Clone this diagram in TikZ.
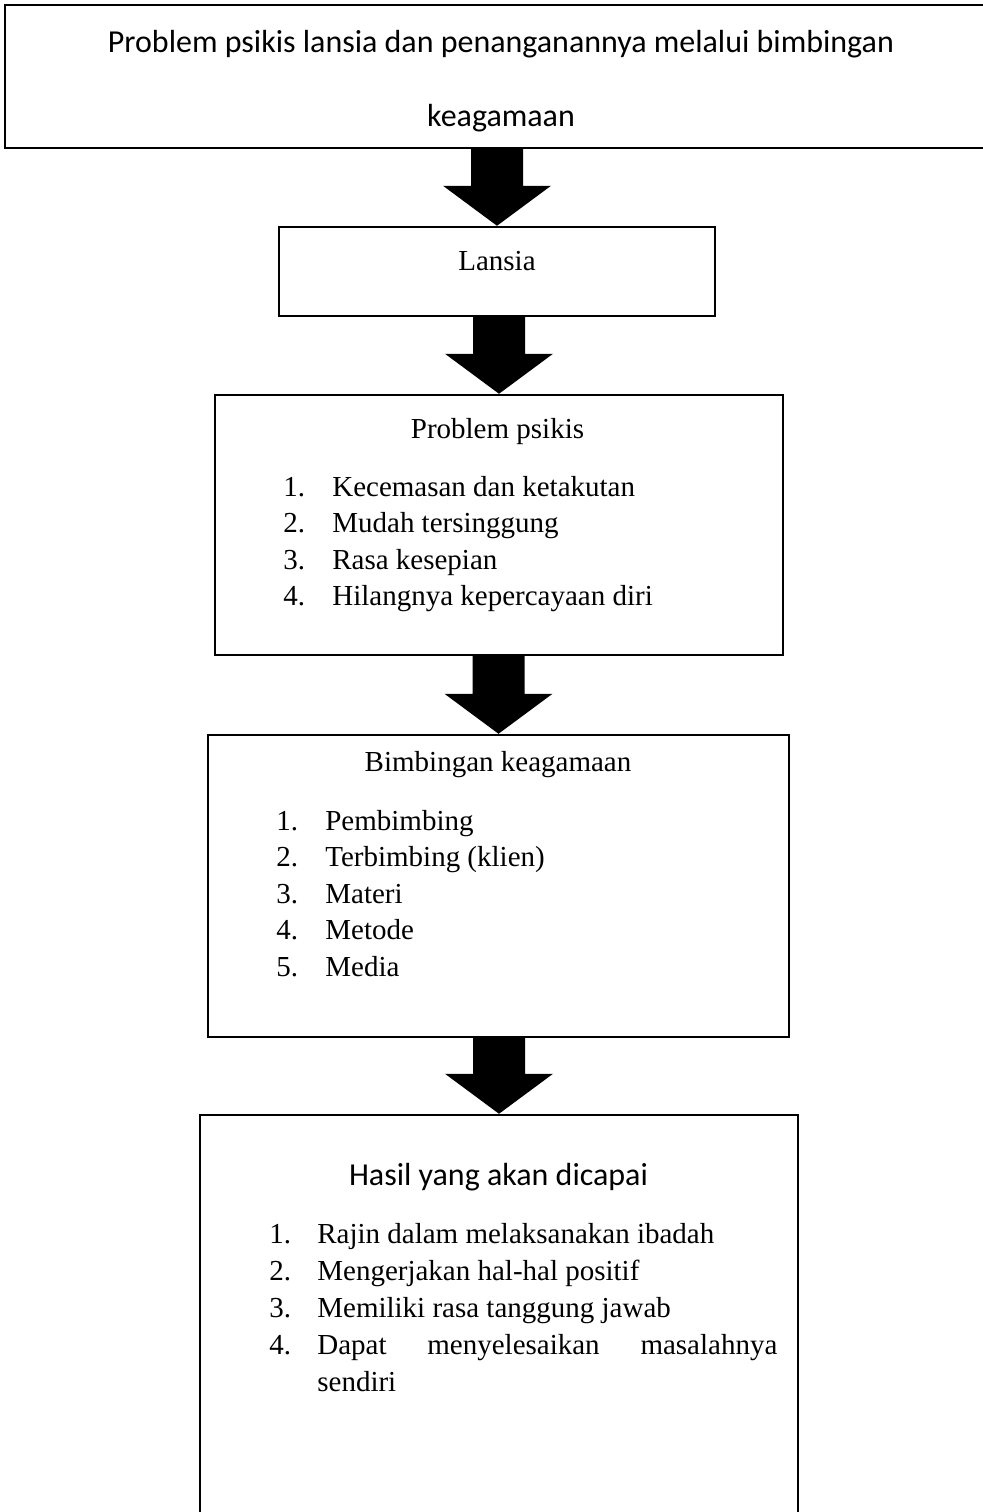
\documentclass[tikz,border=0pt]{standalone}
\usepackage{fontspec}
\setmainfont{Liberation Serif}
\newfontfamily\calibri{Carlito}
\usetikzlibrary{calc}

% blok panah hitam dari kotak #1 ke kotak #2
\newcommand{\blokpanah}[2]{%
    \fill ($(#1.south -| #2.north)+(-0.52,0)$) -- ($(#2.north)+(-0.52,0.8)$)
        -- ($(#2.north)+(-1.08,0.8)$) -- (#2.north) -- ($(#2.north)+(1.08,0.8)$)
        -- ($(#2.north)+(0.52,0.8)$) -- ($(#1.south -| #2.north)+(0.52,0)$) -- cycle;}

\begin{document}
\begin{tikzpicture}[
        kotak/.style={draw, line width=1.4pt, inner sep=0pt},
        judul/.style={font=\calibri\fontsize{18.2}{22}\selectfont},
        teks/.style={font=\fontsize{16.5}{20}\selectfont, inner sep=0pt}
    ]
    \useasboundingbox (0,0) rectangle (19.66,-30.24);

    \node[kotak, minimum width=19.8cm, minimum height=2.86cm] (atas) at (10.0,-1.53) {};
    \node[judul] (atas1) at (10.02,-0.88) {Problem psikis lansia dan penanganannya melalui bimbingan};
    \node[judul] (atas2) at (10.02,-2.36) {keagamaan};

    \node[kotak, minimum width=8.72cm, minimum height=1.78cm] (lansia) at (9.94,-5.43) {};
    \node[teks] (lansiateks) at (9.94,-5.22) {Lansia};

    \node[kotak, minimum width=11.36cm, minimum height=5.2cm] (psikis) at (9.98,-10.5) {};
    \node[teks] (psikisjudul) at (9.95,-8.64) {Problem psikis};
    \foreach \i/\t in {1/Kecemasan dan ketakutan, 2/Mudah tersinggung,
                       3/Rasa kesepian, 4/Hilangnya kepercayaan diri}
        {
            \node[teks, anchor=base west] (psikisno\i) at (5.66,{-9.92-0.733*(\i-1)}) {\i.};
            \node[teks, anchor=base west] (psikis\i) at (6.64,{-9.92-0.733*(\i-1)}) {\t};
        }

    \node[kotak, minimum width=11.62cm, minimum height=6.04cm] (bimbingan) at (9.97,-17.72) {};
    \node[teks] (bimbinganjudul) at (9.96,-15.3) {Bimbingan keagamaan};
    \foreach \i/\t in {1/Pembimbing, 2/Terbimbing (klien), 3/Materi, 4/Metode, 5/Media}
        {
            \node[teks, anchor=base west] (bimbinganno\i) at (5.52,{-16.6-0.73*(\i-1)}) {\i.};
            \node[teks, anchor=base west] (bimbingan\i) at (6.5,{-16.6-0.73*(\i-1)}) {\t};
        }

    \node[kotak, minimum width=11.96cm, minimum height=8.3cm] (hasil) at (9.98,-26.45) {};
    \node[judul] (hasiljudul) at (9.97,-23.54) {Hasil yang akan dicapai};
    \foreach \i/\t in {1/Rajin dalam melaksanakan ibadah, 2/Mengerjakan hal-hal positif,
                       3/Memiliki rasa tanggung jawab,
                       4/\makebox[9.2cm][s]{Dapat menyelesaikan masalahnya}}
        {
            \node[teks, anchor=base west] (hasilno\i) at (5.38,{-24.86-0.74*(\i-1)}) {\i.};
            \node[teks, anchor=base west] (hasil\i) at (6.34,{-24.86-0.74*(\i-1)}) {\t};
        }
    \node[teks, anchor=base west] (hasil5) at (6.34,{-24.86-0.74*4}) {sendiri};

    \blokpanah{atas}{lansia}
    \blokpanah{lansia}{psikis}
    \blokpanah{psikis}{bimbingan}
    \blokpanah{bimbingan}{hasil}
\end{tikzpicture}
\end{document}
